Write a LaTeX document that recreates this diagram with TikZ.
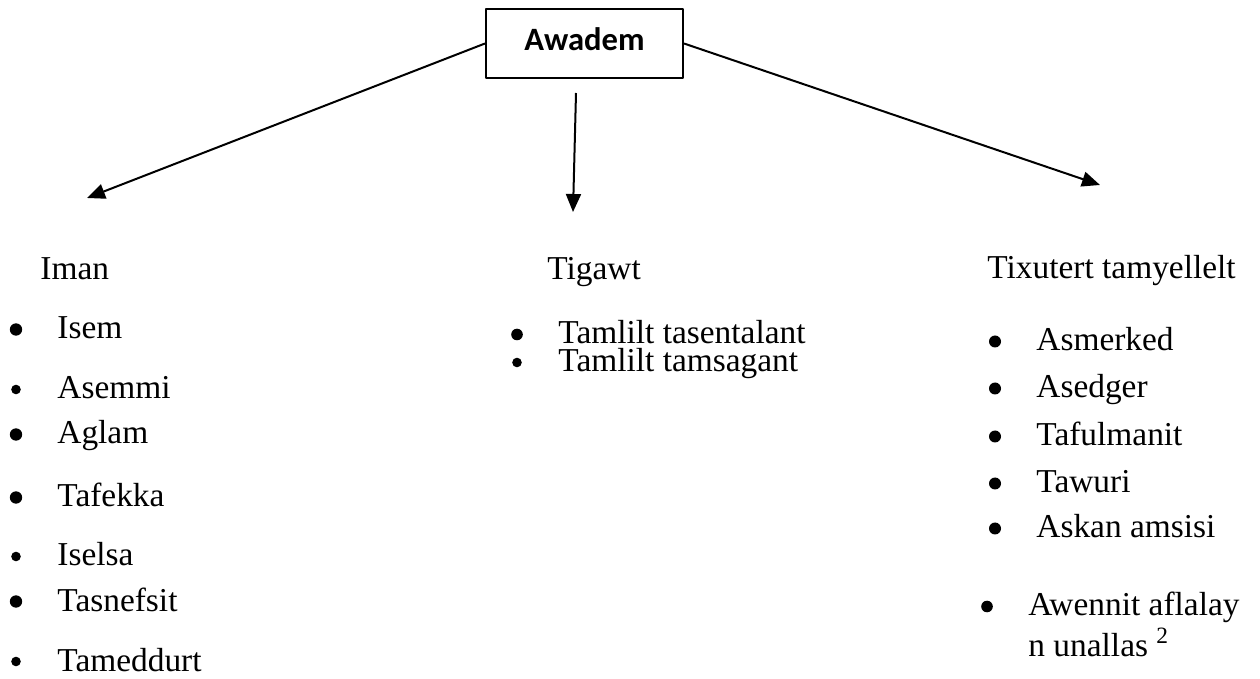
\documentclass[tikz,border=0pt]{standalone}
\usepackage{fontspec}
\setmainfont{Liberation Serif}
\newfontfamily\boxfont{Carlito}
\usetikzlibrary{arrows.meta}
\tikzset{
  txt/.style={anchor=base west,inner sep=0pt,font=\fontsize{16.7}{20}\selectfont},
  arr/.style={line width=1pt,-{Triangle[length=9pt,width=7.5pt]}},
}
\begin{document}
\begin{tikzpicture}[x=0.5pt,y=-0.5pt,line join=round]
  \useasboundingbox (0,0) rectangle (1260,679);
  % top box
  \node[draw,line width=1pt,minimum width=98.5pt,minimum height=34.5pt,inner sep=0pt,
        text height=10pt,text depth=3pt,
        font=\boxfont\bfseries\fontsize{16.3}{18}\selectfont] (awadem) at (584.5,43.5) {Awadem};
  \coordinate (tipL) at (87,198);
  \coordinate (midtop) at (576,93);
  \coordinate (tipM) at (573,212);
  \coordinate (tipR) at (1100,185);
  \draw[arr] (awadem.west) -- (tipL);
  \draw[arr] (midtop) -- (tipM);
  \draw[arr] (awadem.east) -- (tipR);
  % headings
  \node[txt] (iman) at (40,280) {Iman};
  \node[txt] (tigawt) at (547,280) {Tigawt};
  \node[txt] (tixutert) at (987,279) {Tixutert tamyellelt};
  % left list
  \foreach \t/\y/\r [count=\i] in {Isem/339/3.1pt, Asemmi/399/2.4pt, Aglam/444/3.1pt,
      Tafekka/507/3.1pt, Iselsa/566/2.4pt, Tasnefsit/611/3.1pt, Tameddurt/671/2.4pt}{
    \fill (16,\y-9.5) circle(\r);
    \node[txt] (left\i) at (57,\y) {\t};
  }
  % middle list
  \foreach \t/\y/\r [count=\i] in {Tamlilt tasentalant/344/2.9pt, Tamlilt tamsagant/372/2.4pt}{
    \fill (517,\y-9.5) circle(\r);
    \node[txt] (mid\i) at (558,\y) {\t};
  }
  % right list
  \foreach \t/\y [count=\i] in {Asmerked/351, Asedger/398, Tafulmanit/446, Tawuri/493, Askan amsisi/538}{
    \fill (995,\y-9.5) circle(3pt);
    \node[txt] (right\i) at (1036,\y) {\t};
  }
  \fill (987,606.5) circle(2.9pt);
  \node[txt] (right6) at (1028,616) {Awennit aflalay};
  \node[txt] (right7) at (1028,656) {n unallas \textsuperscript{2}};
\end{tikzpicture}
\end{document}
